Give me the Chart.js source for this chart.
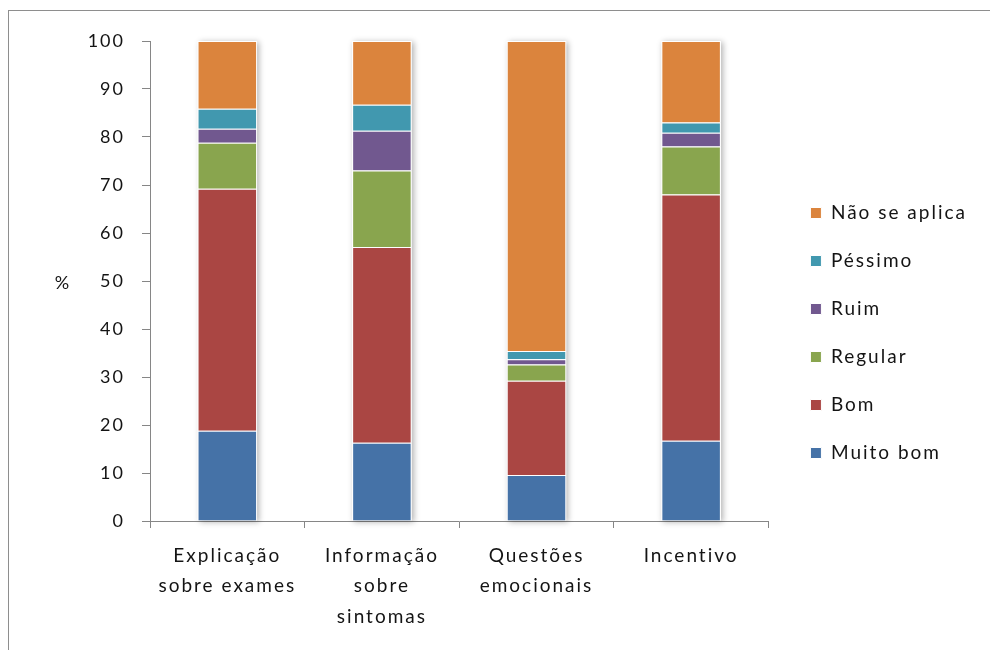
<!DOCTYPE html>
<html>
<head>
<meta charset="utf-8">
<script src="https://cdn.jsdelivr.net/npm/chart.js@4/dist/chart.umd.min.js"></script>
<style>
  html, body { margin: 0; padding: 0; background: #ffffff; overflow: hidden; }
  #wrap { position: relative; width: 990px; height: 650px; }
  #frame { position: absolute; left: 8px; top: 10px; width: 1000px; height: 700px;
           border: 1px solid #8e8e8e; box-sizing: border-box; }
  #c { position: absolute; left: 0; top: 0; }
</style>
</head>
<body>
<div id="wrap">
  <div id="frame"></div>
  <canvas id="c" width="990" height="650"></canvas>
</div>
<script>
// Categories (multi-line axis labels)
const categories = [
  ['Explicação', 'sobre exames'],
  ['Informação', 'sobre', 'sintomas'],
  ['Questões', 'emocionais'],
  ['Incentivo']
];

// Percentages per rating, one array per series
const muitoBom    = [18.8, 16.3,  9.6, 16.7];
const bom         = [50.4, 40.8, 19.6, 51.3];
const regular     = [ 9.6, 15.9,  3.4, 10.0];
const ruim        = [ 2.9,  8.3,  1.1,  2.9];
const pessimo     = [ 4.2,  5.4,  1.7,  2.1];
const naoSeAplica = [14.1, 13.3, 64.6, 17.0];

const seriesNames = ['Muito bom', 'Bom', 'Regular', 'Ruim', 'Péssimo', 'Não se aplica'];
const seriesData  = [muitoBom, bom, regular, ruim, pessimo, naoSeAplica];
const seriesColors = ['#4572A7', '#AA4643', '#89A54E', '#71588F', '#4198AF', '#DB843D'];

const yMin = 0, yMax = 100, yStep = 10;

const FONT = 'Lato';
const TEXT = '#141414';
const AXIS = '#868686';
const SPACING = '2px';

// Loose letter spacing for all canvas text
const letterSpacing = {
  id: 'letterSpacing',
  beforeLayout(chart) { chart.ctx.letterSpacing = SPACING; },
  beforeDraw(chart) { chart.ctx.letterSpacing = SPACING; }
};

// Soft drop shadow behind each full stacked column
const columnShadow = {
  id: 'columnShadow',
  beforeDatasetsDraw(chart) {
    const first = chart.getDatasetMeta(0).data;
    const last = chart.getDatasetMeta(chart.data.datasets.length - 1).data;
    const ctx = chart.ctx;
    ctx.save();
    ctx.shadowColor = 'rgba(0,0,0,0.30)';
    ctx.shadowBlur = 6;
    ctx.shadowOffsetX = 2;
    ctx.shadowOffsetY = 1;
    ctx.fillStyle = '#ffffff';
    first.forEach((bar, i) => {
      const top = last[i].y;
      const bottom = bar.base;
      ctx.fillRect(bar.x - bar.width / 2, top, bar.width, bottom - top);
    });
    ctx.restore();
  }
};

// Horizontal "%" caption beside the value axis
const percentCaption = {
  id: 'percentCaption',
  afterDraw(chart) {
    const y = chart.scales.y;
    const ctx = chart.ctx;
    ctx.save();
    ctx.letterSpacing = '0px';
    ctx.font = '18px ' + FONT;
    ctx.fillStyle = TEXT;
    ctx.textAlign = 'center';
    ctx.textBaseline = 'middle';
    ctx.fillText('%', y.left + 62, (y.top + y.bottom) / 2 + 2);
    ctx.restore();
  }
};

// Shift the legend block a little away from the plot
const legendOffset = {
  id: 'legendOffset',
  afterLayout(chart) {
    const lg = chart.legend;
    lg.left += 13;
    lg.right += 13;
  }
};

new Chart(document.getElementById('c'), {
  type: 'bar',
  data: {
    labels: categories,
    datasets: seriesNames.map((name, i) => ({
      label: name,
      data: seriesData[i],
      backgroundColor: seriesColors[i],
      borderColor: '#ffffff',
      borderWidth: 1,
      barPercentage: 0.385,
      categoryPercentage: 1.0
    }))
  },
  options: {
    responsive: false,
    animation: false,
    devicePixelRatio: 1,
    layout: { padding: { left: 0, right: 26, top: 41, bottom: 25 } },
    plugins: {
      title: { display: false },
      tooltip: { enabled: false },
      legend: {
        position: 'right',
        align: 'center',
        reverse: true,
        labels: {
          boxWidth: 11,
          boxHeight: 11,
          padding: 29,
          color: TEXT,
          font: { family: FONT, size: 19 }
        }
      }
    },
    scales: {
      x: {
        stacked: true,
        afterFit(scale) { scale.height = 104; },
        border: { display: true, color: AXIS, width: 1 },
        grid: { display: true, drawOnChartArea: false, drawTicks: true, tickLength: 7, color: AXIS, offset: true },
        ticks: {
          color: TEXT,
          padding: 12,
          maxRotation: 0,
          font: { family: FONT, size: 19, lineHeight: 1.62 }
        }
      },
      y: {
        stacked: true,
        min: yMin,
        max: yMax,
        afterFit(scale) { scale.width = 150; },
        border: { display: true, color: AXIS, width: 1 },
        grid: { display: true, drawOnChartArea: false, drawTicks: true, tickLength: 8, color: AXIS },
        ticks: {
          stepSize: yStep,
          color: TEXT,
          padding: 17,
          font: { family: FONT, size: 18 }
        }
      }
    }
  },
  plugins: [letterSpacing, columnShadow, percentCaption, legendOffset]
});
</script>
</body>
</html>
